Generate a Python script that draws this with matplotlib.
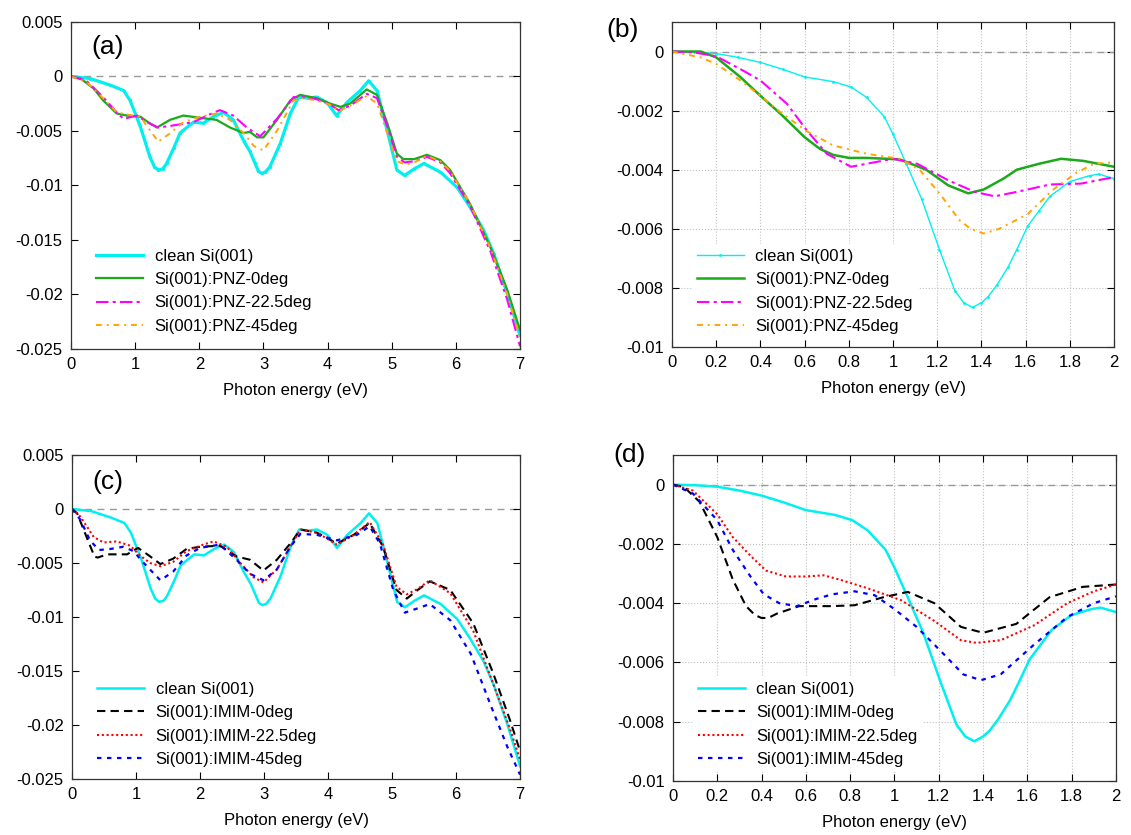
import matplotlib
matplotlib.use('Agg')
import matplotlib.pyplot as plt
import numpy as np
from matplotlib.ticker import FuncFormatter
from matplotlib import rcParams
rcParams['font.family'] = ['Liberation Sans', 'DejaVu Sans']
rcParams['xtick.labelsize'] = 12
rcParams['ytick.labelsize'] = 12
rcParams['axes.labelsize'] = 12
rcParams['legend.fontsize'] = 12

# ---- wide range, panels (a) and (c) ----
e_clean = [0, 0.3, 0.61, 0.82, 0.92, 1.08, 1.23, 1.30, 1.36, 1.43, 1.49, 1.60, 1.70, 1.91, 2.06,
           2.22, 2.38, 2.53, 2.69, 2.79, 2.87, 2.92, 2.97, 3.03, 3.10, 3.26, 3.42, 3.55, 3.70,
           3.83, 3.99, 4.14, 4.30, 4.51, 4.64, 4.77, 4.93, 5.08, 5.20, 5.35, 5.50, 5.76, 6.02,
           6.22, 6.43, 6.59, 6.80, 7.0]
v_clean = [0, -0.0002, -0.0008, -0.0013, -0.0022, -0.0046, -0.0074, -0.0083, -0.0086, -0.0085,
           -0.0080, -0.0066, -0.0052, -0.0042, -0.0043, -0.0037, -0.0033, -0.0040, -0.0059,
           -0.0069, -0.0080, -0.0087, -0.0089, -0.0088, -0.0083, -0.0062, -0.0034, -0.0019,
           -0.0020, -0.0019, -0.0024, -0.0036, -0.0024, -0.0013, -0.0004, -0.0013, -0.0050,
           -0.0086, -0.0091, -0.0085, -0.0080, -0.0088, -0.0102, -0.0120, -0.0141, -0.0163,
           -0.0199, -0.0238]

e_pnz0 = [0, 0.15, 0.35, 0.50, 0.71, 0.87, 1.08, 1.20, 1.34, 1.54, 1.75, 2.01, 2.27, 2.48, 2.69,
          2.79, 2.90, 3.0, 3.21, 3.42, 3.57, 3.83, 4.04, 4.20, 4.35, 4.61, 4.77, 4.93, 5.08,
          5.18, 5.35, 5.55, 5.76, 5.91, 6.22, 6.54, 6.80, 7.0]
v_pnz0 = [0, -0.0002, -0.0011, -0.0022, -0.0034, -0.0036, -0.0037, -0.0042, -0.0047, -0.0040,
          -0.0036, -0.0038, -0.0040, -0.0047, -0.0052, -0.0051, -0.0056, -0.0056, -0.0040,
          -0.0022, -0.0017, -0.0020, -0.0025, -0.0028, -0.0025, -0.0012, -0.0017, -0.0043,
          -0.0071, -0.0076, -0.0076, -0.0072, -0.0077, -0.0086, -0.0117, -0.0157, -0.0196, -0.0233]

e_pnz22 = [0, 0.24, 0.50, 0.71, 0.82, 1.03, 1.18, 1.36, 1.60, 1.91, 2.12, 2.32, 2.53, 2.74, 2.95,
           3.21, 3.47, 3.60, 3.83, 4.04, 4.17, 4.35, 4.61, 4.77, 4.93, 5.08, 5.20, 5.35, 5.55,
           5.76, 5.91, 6.22, 6.54, 6.80, 7.0]
v_pnz22 = [0, -0.0004, -0.0019, -0.0033, -0.0039, -0.0036, -0.0042, -0.0047, -0.0045, -0.0042,
           -0.0036, -0.0031, -0.0036, -0.0047, -0.0055, -0.0039, -0.0019, -0.0019, -0.0021,
           -0.0026, -0.0031, -0.0027, -0.0016, -0.0020, -0.0046, -0.0074, -0.0079, -0.0078,
           -0.0074, -0.0079, -0.0089, -0.0119, -0.0161, -0.0205, -0.0248]

e_pnz45 = [0, 0.24, 0.50, 0.71, 0.87, 1.08, 1.20, 1.36, 1.55, 1.75, 2.01, 2.27, 2.48, 2.69, 2.85,
           3.0, 3.21, 3.47, 3.60, 3.83, 4.04, 4.17, 4.35, 4.61, 4.77, 4.93, 5.08, 5.22, 5.35,
           5.55, 5.76, 5.91, 6.22, 6.54, 6.80, 7.0]
v_pnz45 = [0, -0.0005, -0.0020, -0.0033, -0.0035, -0.0037, -0.0047, -0.0060, -0.0052, -0.0042,
           -0.0037, -0.0034, -0.0040, -0.0052, -0.0064, -0.0068, -0.0050, -0.0022, -0.0020,
           -0.0022, -0.0026, -0.0032, -0.0027, -0.0018, -0.0025, -0.0052, -0.0078, -0.0081,
           -0.0079, -0.0073, -0.0078, -0.0087, -0.0117, -0.0158, -0.0200, -0.0240]

e_imim0 = [0, 0.08, 0.18, 0.35, 0.40, 0.55, 0.86, 1.03, 1.20, 1.38, 1.58, 1.79, 2.0, 2.31, 2.57,
           2.78, 2.99, 3.2, 3.41, 3.57, 3.83, 4.14, 4.40, 4.65, 4.86, 5.07, 5.23, 5.40, 5.59,
           5.91, 6.27, 6.58, 6.84, 7.0]
v_imim0 = [0, -0.0004, -0.0019, -0.0044, -0.0045, -0.0042, -0.0042, -0.0036, -0.0043, -0.0051,
           -0.0046, -0.0037, -0.0035, -0.0034, -0.0044, -0.0047, -0.0057, -0.0047, -0.0032,
           -0.0019, -0.0022, -0.0032, -0.0024, -0.0013, -0.0035, -0.0075, -0.0083, -0.0075,
           -0.0067, -0.0075, -0.0106, -0.0152, -0.0195, -0.0224]

e_imim22 = [0, 0.13, 0.34, 0.49, 0.70, 0.91, 1.06, 1.22, 1.38, 1.58, 1.79, 2.05, 2.21, 2.42,
            2.63, 2.83, 2.99, 3.2, 3.41, 3.57, 3.83, 4.14, 4.40, 4.65, 4.86, 5.07, 5.23, 5.40,
            5.59, 5.91, 6.27, 6.48, 6.84, 7.0]
v_imim22 = [0, -0.0007, -0.0026, -0.0031, -0.0030, -0.0034, -0.0043, -0.0050, -0.0053, -0.0049,
            -0.0039, -0.0033, -0.0030, -0.0035, -0.0050, -0.0063, -0.0068, -0.0056, -0.0035,
            -0.0019, -0.0022, -0.0033, -0.0024, -0.0012, -0.0033, -0.0072, -0.0079, -0.0074,
            -0.0066, -0.0078, -0.0113, -0.0146, -0.0203, -0.0232]

e_imim45 = [0, 0.13, 0.28, 0.42, 0.60, 0.80, 0.96, 1.12, 1.38, 1.58, 1.79, 2.0, 2.31, 2.57, 2.78,
            2.99, 3.2, 3.41, 3.57, 3.83, 4.14, 4.45, 4.65, 4.81, 5.02, 5.20, 5.40, 5.59, 5.91,
            6.23, 6.55, 6.80, 7.0]
v_imim45 = [0, -0.0010, -0.0029, -0.0038, -0.0037, -0.0035, -0.0039, -0.0050, -0.0066, -0.0058,
            -0.0043, -0.0036, -0.0033, -0.0047, -0.0060, -0.0066, -0.0056, -0.0035, -0.0023,
            -0.0024, -0.0029, -0.0024, -0.0016, -0.0032, -0.0075, -0.0096, -0.0092, -0.0088,
            -0.0103, -0.0134, -0.0183, -0.0220, -0.0246]

# ---- low energy zoom, panels (b) and (d) ----
el_clean = [0, 0.1, 0.2, 0.3, 0.4, 0.5, 0.6, 0.73, 0.81, 0.88, 0.96, 1.0, 1.06, 1.13, 1.21, 1.28,
            1.32, 1.36, 1.40, 1.43, 1.47, 1.52, 1.56, 1.61, 1.66, 1.71, 1.80, 1.89, 1.93, 2.0]
vl_clean = [0, -0.00002, -0.00007, -0.0002, -0.00037, -0.0006, -0.00086, -0.00102, -0.0012,
            -0.00155, -0.0022, -0.0028, -0.0038, -0.0050, -0.0067, -0.0081, -0.0085, -0.00866,
            -0.0085, -0.0083, -0.0079, -0.0073, -0.0067, -0.0059, -0.0054, -0.0049, -0.0044,
            -0.0042, -0.00415, -0.0043]

el_pnz0 = [0, 0.13, 0.2, 0.31, 0.40, 0.49, 0.60, 0.67, 0.73, 0.80, 0.88, 1.03, 1.15, 1.25, 1.34,
           1.41, 1.50, 1.56, 1.66, 1.76, 1.86, 2.0]
vl_pnz0 = [0, 0, -0.0002, -0.00087, -0.0015, -0.0021, -0.0029, -0.0033, -0.0035, -0.0036, -0.0036,
           -0.00365, -0.0040, -0.00453, -0.0048, -0.00467, -0.0043, -0.0040, -0.0038, -0.00363,
           -0.0037, -0.0039]

el_pnz22 = [0, 0.1, 0.2, 0.32, 0.40, 0.52, 0.61, 0.70, 0.81, 0.88, 1.0, 1.11, 1.25, 1.37, 1.46,
            1.56, 1.71, 1.85, 2.0]
vl_pnz22 = [0, -0.00003, -0.00016, -0.00064, -0.00098, -0.00177, -0.00267, -0.00346, -0.0039,
            -0.0038, -0.00363, -0.0038, -0.00436, -0.00475, -0.0049, -0.00475, -0.0045,
            -0.00447, -0.00425]

el_pnz45 = [0, 0.13, 0.2, 0.31, 0.40, 0.49, 0.61, 0.73, 0.88, 1.03, 1.12, 1.21, 1.30, 1.35, 1.41,
            1.48, 1.61, 1.72, 1.83, 1.91, 2.0]
vl_pnz45 = [0, -0.0002, -0.00042, -0.00098, -0.0015, -0.00205, -0.0027, -0.00318, -0.00346,
            -0.00363, -0.0040, -0.0048, -0.0057, -0.0060, -0.00616, -0.0060, -0.0055, -0.0047,
            -0.0041, -0.0038, -0.00375]

el_imim0 = [0, 0.05, 0.12, 0.20, 0.27, 0.33, 0.37, 0.40, 0.43, 0.47, 0.57, 0.72, 0.82, 0.95,
            1.06, 1.18, 1.30, 1.40, 1.55, 1.70, 1.85, 2.0]
vl_imim0 = [0, -0.00008, -0.00058, -0.00177, -0.0032, -0.0041, -0.0044, -0.0045, -0.0045,
            -0.00435, -0.0041, -0.0041, -0.00407, -0.0038, -0.00362, -0.0040, -0.0048, -0.0050,
            -0.0047, -0.0038, -0.00345, -0.00337]

el_imim22 = [0, 0.09, 0.2, 0.27, 0.35, 0.42, 0.51, 0.60, 0.68, 0.75, 0.88, 1.03, 1.18, 1.30,
             1.37, 1.48, 1.63, 1.78, 1.90, 2.0]
vl_imim22 = [0, -0.0002, -0.001, -0.00177, -0.0024, -0.0029, -0.0031, -0.0031, -0.00306,
             -0.0032, -0.0035, -0.0039, -0.0046, -0.00525, -0.00534, -0.00525, -0.00475,
             -0.0040, -0.0036, -0.00337]

el_imim45 = [0, 0.09, 0.2, 0.27, 0.35, 0.41, 0.48, 0.56, 0.65, 0.72, 0.82, 0.91, 1.0, 1.10, 1.22,
             1.31, 1.39, 1.48, 1.63, 1.78, 1.90, 2.0]
vl_imim45 = [0, -0.0003, -0.0012, -0.0022, -0.0031, -0.0037, -0.004, -0.0041, -0.00385, -0.0037,
             -0.0036, -0.00373, -0.0042, -0.0048, -0.0057, -0.0064, -0.0066, -0.0064, -0.0054,
             -0.00447, -0.004, -0.00377]

lab_clean = 'clean Si(001)'
lab_pnz = ['Si(001):PNZ-0deg', 'Si(001):PNZ-22.5deg', 'Si(001):PNZ-45deg']
lab_imim = ['Si(001):IMIM-0deg', 'Si(001):IMIM-22.5deg', 'Si(001):IMIM-45deg']

c_cyan = '#00f0f0'
c_green = '#1aaa1a'
c_mag = '#ff00ff'
c_orange = '#ffa500'

gfmt = FuncFormatter(lambda v, p: '%g' % round(v, 6))


def setup(ax, xmax, xstep, ylo, yhi, ystep, grid):
    ax.set_xlim(0, xmax)
    ax.set_ylim(ylo, yhi)
    ax.set_xticks(np.arange(0, xmax + 1e-9, xstep))
    ax.set_yticks(np.arange(ylo, yhi + 1e-9, ystep))
    ax.xaxis.set_major_formatter(gfmt)
    ax.yaxis.set_major_formatter(gfmt)
    ax.tick_params(direction='in', top=True, right=True, length=5, width=0.8, pad=6)
    for s in ax.spines.values():
        s.set_linewidth(0.9)
        s.set_color('#333333')
    ax.axhline(0, color='#999999', ls=(0, (5, 4)), lw=1.0, zorder=1)
    if grid:
        ax.grid(True, color='#c0c0c0', ls=':', lw=0.8)
        ax.set_axisbelow(True)
    ax.set_xlabel('Photon energy (eV)', labelpad=8)


def add_legend(ax, y):
    leg = ax.legend(loc='lower left', bbox_to_anchor=(0.045, y), borderaxespad=0,
                    borderpad=0.3, handlelength=2.8, handletextpad=0.7, labelspacing=0.5,
                    frameon=True, fancybox=False, framealpha=1, edgecolor='none')
    leg.set_zorder(5)


fig = plt.figure(figsize=(11.31, 8.35), dpi=100)
ax_a = fig.add_axes([0.0628, 0.5826, 0.3970, 0.3911])
ax_b = fig.add_axes([0.5942, 0.5844, 0.3908, 0.3893])
ax_c = fig.add_axes([0.0637, 0.0671, 0.3961, 0.3880])
ax_d = fig.add_axes([0.5950, 0.0647, 0.3917, 0.3904])

# (a)
ax_a.plot(e_clean, v_clean, color=c_cyan, lw=2.3, marker='.', ms=2.5, label=lab_clean)
ax_a.plot(e_pnz0, v_pnz0, color=c_green, lw=1.6, label=lab_pnz[0])
ax_a.plot(e_pnz22, v_pnz22, color=c_mag, lw=1.5, ls=(0, (6, 2, 1.5, 2)), label=lab_pnz[1])
ax_a.plot(e_pnz45, v_pnz45, color=c_orange, lw=1.4, ls=(0, (3, 2.5, 1, 2.5)), label=lab_pnz[2])
setup(ax_a, 7, 1, -0.025, 0.005, 0.005, False)
add_legend(ax_a, 0.03)
ax_a.text(0.082, 0.923, '(a)', transform=ax_a.transAxes, fontsize=19, ha='center', va='center')

# (b)
ax_b.plot(el_clean, vl_clean, color=c_cyan, lw=1.0, marker='.', ms=2, label=lab_clean)
ax_b.plot(el_pnz0, vl_pnz0, color=c_green, lw=1.8, label=lab_pnz[0])
ax_b.plot(el_pnz22, vl_pnz22, color=c_mag, lw=1.5, ls=(0, (6, 2, 1.5, 2)), label=lab_pnz[1])
ax_b.plot(el_pnz45, vl_pnz45, color=c_orange, lw=1.4, ls=(0, (3, 2.5, 1, 2.5)), label=lab_pnz[2])
setup(ax_b, 2, 0.2, -0.01, 0.001, 0.002, True)
ax_b.set_yticks([-0.01, -0.008, -0.006, -0.004, -0.002, 0])
add_legend(ax_b, 0.025)
fig.text(623 / 1131, 1 - 30 / 835, '(b)', fontsize=19, ha='center', va='center')

# (c)
ax_c.plot(e_clean, v_clean, color=c_cyan, lw=1.8, label=lab_clean)
ax_c.plot(e_imim0, v_imim0, color='black', lw=1.5, ls=(0, (4, 2.5)), label=lab_imim[0])
ax_c.plot(e_imim22, v_imim22, color='red', lw=1.5, ls=(0, (1, 1.3)), label=lab_imim[1])
ax_c.plot(e_imim45, v_imim45, color='blue', lw=1.6, ls=(0, (2, 2.5)), label=lab_imim[2])
setup(ax_c, 7, 1, -0.025, 0.005, 0.005, False)
add_legend(ax_c, 0.022)
ax_c.text(0.081, 0.917, '(c)', transform=ax_c.transAxes, fontsize=19, ha='center', va='center')

# (d)
ax_d.plot(el_clean, vl_clean, color=c_cyan, lw=1.8, label=lab_clean)
ax_d.plot(el_imim0, vl_imim0, color='black', lw=1.5, ls=(0, (4, 2.5)), label=lab_imim[0])
ax_d.plot(el_imim22, vl_imim22, color='red', lw=1.5, ls=(0, (1, 1.3)), label=lab_imim[1])
ax_d.plot(el_imim45, vl_imim45, color='blue', lw=1.6, ls=(0, (2, 2.5)), label=lab_imim[2])
setup(ax_d, 2, 0.2, -0.01, 0.001, 0.002, True)
ax_d.set_yticks([-0.01, -0.008, -0.006, -0.004, -0.002, 0])
add_legend(ax_d, 0.028)
fig.text(630 / 1131, 1 - 455 / 835, '(d)', fontsize=19, ha='center', va='center')

plt.savefig('out.png', dpi=100)
